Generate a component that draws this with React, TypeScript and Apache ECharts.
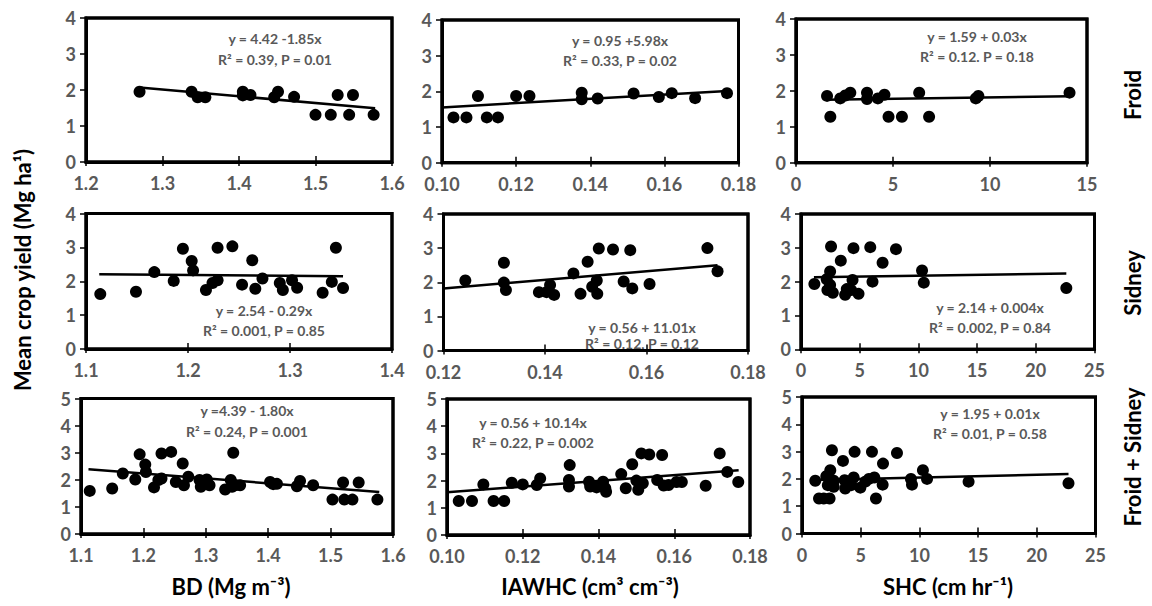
import React, { useEffect, useRef } from 'react';
import * as echarts from 'echarts';

// ---------- data (x, mean crop yield) ----------
const froidBD = [[1.27,1.95],[1.338,1.95],[1.346,1.80],[1.356,1.80],[1.405,1.95],[1.405,1.85],[1.415,1.86],[1.446,1.80],[1.451,1.95],[1.472,1.81],[1.50,1.31],[1.52,1.31],[1.544,1.31],[1.529,1.86],[1.549,1.86],[1.576,1.31]];
const froidIAWHC = [[0.1031,1.27],[0.1066,1.27],[0.1097,1.87],[0.1121,1.27],[0.1151,1.27],[0.1200,1.87],[0.1236,1.87],[0.1377,1.96],[0.1377,1.78],[0.1420,1.80],[0.1517,1.94],[0.1585,1.84],[0.162,1.95],[0.1683,1.81],[0.1769,1.95]];
const froidSHC = [[1.60,1.86],[1.77,1.28],[2.28,1.79],[2.54,1.87],[2.80,1.95],[3.66,1.95],[3.66,1.77],[4.22,1.79],[4.56,1.89],[4.77,1.28],[5.46,1.28],[6.35,1.95],[6.86,1.28],[9.27,1.79],[9.40,1.86],[14.1,1.95]];

const sidneyBD = [[1.114,1.62],[1.149,1.69],[1.167,2.27],[1.186,2.01],[1.195,2.96],[1.2036,2.60],[1.205,2.32],[1.2176,1.74],[1.224,1.95],[1.229,2.99],[1.229,2.03],[1.2435,3.03],[1.253,1.90],[1.263,2.62],[1.266,1.78],[1.273,2.08],[1.29,1.95],[1.293,1.74],[1.302,2.03],[1.307,1.81],[1.332,1.66],[1.341,1.98],[1.345,2.99],[1.352,1.80]];
const sidneyIAWHC = [[0.1243,2.05],[0.1319,2.57],[0.1319,1.99],[0.1323,1.77],[0.1388,1.71],[0.1403,1.71],[0.141,1.92],[0.1418,1.63],[0.1456,2.26],[0.147,1.66],[0.1484,2.60],[0.1493,1.87],[0.1502,2.05],[0.1503,1.66],[0.1506,2.99],[0.1534,2.96],[0.1555,2.02],[0.1568,2.94],[0.1572,1.82],[0.1606,1.95],[0.172,3.0],[0.174,2.32]];
const sidneySHC = [[1.14,1.93],[2.19,2.07],[2.48,2.30],[2.56,3.04],[2.48,1.90],[2.25,1.75],[2.71,1.67],[3.39,2.62],[3.76,1.61],[3.90,1.78],[4.39,2.05],[4.47,2.99],[4.27,1.75],[4.90,1.64],[5.90,3.02],[6.09,2.00],[6.95,2.56],[8.09,2.96],[10.31,2.33],[10.46,1.97],[22.6,1.81]];

const bothBD = [[1.114,1.59],[1.150,1.68],[1.167,2.23],[1.187,2.01],[1.194,2.94],[1.203,2.56],[1.204,2.29],[1.217,1.72],[1.224,1.99],[1.229,2.97],[1.229,2.05],[1.2445,3.03],[1.252,1.92],[1.263,2.60],[1.265,1.80],[1.272,2.11],[1.290,1.99],[1.292,1.74],[1.3016,2.01],[1.306,1.80],[1.331,1.64],[1.340,1.99],[1.344,3.0],[1.342,1.74],[1.347,1.80],[1.355,1.80],[1.403,1.92],[1.408,1.84],[1.414,1.85],[1.446,1.76],[1.451,1.96],[1.472,1.80],[1.503,1.27],[1.522,1.27],[1.535,1.27],[1.52,1.90],[1.545,1.90],[1.575,1.27]];
const bothIAWHC = [[0.1031,1.25],[0.1066,1.25],[0.1096,1.86],[0.1123,1.25],[0.1151,1.25],[0.1171,1.92],[0.1200,1.86],[0.1237,1.84],[0.1246,2.08],[0.1324,2.57],[0.1322,2.02],[0.1322,1.78],[0.1375,1.96],[0.1378,1.78],[0.1395,1.75],[0.1412,1.96],[0.1418,1.72],[0.142,1.59],[0.1460,2.24],[0.1472,1.72],[0.1489,2.60],[0.150,2.0],[0.1505,1.66],[0.1513,3.0],[0.1517,1.90],[0.1534,2.96],[0.1555,2.02],[0.1568,2.94],[0.1572,1.82],[0.1585,1.84],[0.1606,1.95],[0.162,1.95],[0.1683,1.81],[0.172,3.0],[0.174,2.32],[0.1769,1.95]];
const bothSHC = [[1.13,1.93],[1.45,1.28],[1.85,1.28],[2.35,1.28],[2.07,2.10],[2.2,1.77],[2.41,2.32],[2.55,3.05],[2.7,1.93],[2.7,1.71],[3.49,2.66],[3.63,1.95],[3.68,1.65],[4.11,1.90],[4.40,2.05],[4.48,2.99],[4.2,1.77],[4.97,1.68],[5.39,1.90],[5.7,2.0],[5.96,2.99],[6.16,2.05],[6.30,1.28],[6.90,2.56],[6.87,1.79],[8.09,2.95],[9.28,2.0],[9.37,1.79],[10.3,2.32],[10.65,2.0],[14.19,1.90],[22.7,1.84]];

// fitted regression lines (end points as drawn)
const fitFroidBD = [[1.27,2.07],[1.578,1.49]];
const fitFroidIAWHC = [[0.10,1.55],[0.177,2.01]];
const fitFroidSHC = [[1.5,1.75],[14.1,1.85]];
const fitSidneyBD = [[1.113,2.21],[1.352,2.15]];
const fitSidneyIAWHC = [[0.12,1.82],[0.174,2.50]];
const fitSidneySHC = [[1.1,2.13],[22.6,2.24]];
const fitBothBD = [[1.112,2.39],[1.578,1.55]];
const fitBothIAWHC = [[0.10,1.57],[0.177,2.38]];
const fitBothSHC = [[1.1,1.96],[22.7,2.18]];

const equations = ['y = 4.42 -1.85x','y = 0.95 +5.98x','y = 1.59 + 0.03x','y = 2.54 - 0.29x','y = 0.56 + 11.01x','y = 2.14 + 0.004x','y =4.39 - 1.80x','y = 0.56 + 10.14x','y = 1.95 + 0.01x'];
const stats = ['R² = 0.39, P = 0.01','R² = 0.33, P = 0.02','R² = 0.12. P = 0.18','R² = 0.001, P = 0.85','R² = 0.12, P = 0.12','R² = 0.002, P = 0.84','R² = 0.24, P = 0.001','R² = 0.22, P = 0.002','R² = 0.01, P = 0.58'];

// axis ranges [min, max, interval, decimals]
const xRanges = [[1.2,1.6,0.1,1],[0.10,0.18,0.02,2],[0,15,5,0],[1.1,1.4,0.1,1],[0.12,0.18,0.02,2],[0,25,5,0],[1.1,1.6,0.1,1],[0.10,0.18,0.02,2],[0,25,5,0]];
const yRanges = [[0,4,1],[0,4,1],[0,4,1],[0,4,1],[0,4,1],[0,4,1],[0,5,1],[0,5,1],[0,5,1]];

const rowTitles = ['Froid','Sidney','Froid + Sidney'];
const xTitles = ['BD (Mg m⁻³)','IAWHC (cm³ cm⁻³)','SHC (cm hr⁻¹)'];
const yTitle = 'Mean crop yield (Mg ha¹)';

const panelData = [froidBD, froidIAWHC, froidSHC, sidneyBD, sidneyIAWHC, sidneySHC, bothBD, bothIAWHC, bothSHC];
const panelFits = [fitFroidBD, fitFroidIAWHC, fitFroidSHC, fitSidneyBD, fitSidneyIAWHC, fitSidneySHC, fitBothBD, fitBothIAWHC, fitBothSHC];

// ---------- layout ----------
const boxes = [
  [86,18,392,162],[442,20,738.5,162.7],[796,19,1087,162.7],
  [86,213.5,392,349],[443.5,214,748,350.5],[801,214,1094.5,349.3],
  [81,398.5,393,534],[447,399,750,535],[802,397,1095.5,533.5],
];
const annoPos = [[275,38,59],[620,40,60],[977,36,56],[264,310,330],[642,327,343],[990,307,327],[247,410,431],[533,422,442],[990,413,433]];

const GRAY = '#595959';
const FONT = 'Lato, "Open Sans", sans-serif';

export default function App() {
  const ref = useRef<HTMLDivElement>(null);
  useEffect(() => {
    if (!ref.current) return;
    const chart = echarts.init(ref.current, undefined, { renderer: 'svg' });
    const grid: any[] = [];
    const xAxis: any[] = [];
    const yAxis: any[] = [];
    const series: any[] = [];
    const graphic: any[] = [];
    boxes.forEach((b, i) => {
      grid.push({ left: b[0], top: b[1], width: b[2] - b[0], height: b[3] - b[1], show: true, borderColor: '#000000', borderWidth: 3, backgroundColor: 'rgba(0,0,0,0)' });
      const xr = xRanges[i];
      xAxis.push({
        type: 'value', gridIndex: i, min: xr[0], max: xr[1], interval: xr[2],
        axisLine: { show: true, onZero: false, lineStyle: { color: '#000', width: 3 } },
        axisTick: { show: true, inside: false, length: 4, lineStyle: { color: '#000', width: 1.5 } },
        axisLabel: { show: true, margin: 12, color: GRAY, fontFamily: FONT, fontWeight: 'bold', fontSize: 18, formatter: (v: number) => v.toFixed(xr[3] as number) },
        splitLine: { show: false },
      });
      const yr = yRanges[i];
      yAxis.push({
        type: 'value', gridIndex: i, min: yr[0], max: yr[1], interval: yr[2],
        axisLine: { show: true, onZero: false, lineStyle: { color: '#000', width: 3 } },
        axisTick: { show: true, inside: false, length: 6, lineStyle: { color: '#000', width: 1.5 } },
        axisLabel: { show: true, margin: 10, color: GRAY, fontFamily: FONT, fontWeight: 'bold', fontSize: 18 },
        splitLine: { show: false },
      });
      series.push({
        type: 'scatter', xAxisIndex: i, yAxisIndex: i, data: panelData[i], symbol: 'circle', symbolSize: 12,
        itemStyle: { color: '#000', opacity: 1 }, z: 3,
      });
      series.push({
        type: 'line', xAxisIndex: i, yAxisIndex: i, data: panelFits[i], showSymbol: false, symbol: 'none',
        lineStyle: { color: '#000', width: 2.5 }, z: 2,
      });
      const a = annoPos[i];
      graphic.push({ type: 'text', x: a[0], y: a[1], style: { text: equations[i], fill: GRAY, font: `bold 14px ${FONT}`, textAlign: 'center', textVerticalAlign: 'middle' } });
      graphic.push({ type: 'text', x: a[0], y: a[2], style: { text: stats[i], fill: GRAY, font: `bold 14px ${FONT}`, textAlign: 'center', textVerticalAlign: 'middle' } });
      // box border (drawn as a rect so it is solid black)
      graphic.push({ type: 'rect', shape: { x: b[0], y: b[1], width: b[2] - b[0], height: b[3] - b[1] }, style: { fill: 'none', stroke: '#000', lineWidth: 3 }, silent: true, z: 10 });
    });
    // inner half of x ticks (ticks cross the axis)
    boxes.forEach((b, i) => {
      const xr = xRanges[i];
      xAxis.push({
        type: 'value', gridIndex: i, min: xr[0], max: xr[1], interval: xr[2], position: 'bottom',
        axisLine: { show: false }, axisLabel: { show: false }, splitLine: { show: false },
        axisTick: { show: true, inside: true, length: 6, lineStyle: { color: '#000', width: 1.5 } },
      });
    });
    // titles
    graphic.push({ type: 'text', x: 22, y: 270, rotation: Math.PI / 2, style: { text: yTitle, fill: '#000', font: `bold 22px ${FONT}`, textAlign: 'center', textVerticalAlign: 'middle' } });
    const rowY = [95, 283, 457];
    rowTitles.forEach((t, i) => {
      graphic.push({ type: 'text', x: 1132, y: rowY[i], rotation: Math.PI / 2, style: { text: t, fill: '#000', font: `bold 22px ${FONT}`, textAlign: 'center', textVerticalAlign: 'middle' } });
    });
    const colX = [231, 590, 948];
    xTitles.forEach((t, i) => {
      graphic.push({ type: 'text', x: colX[i], y: 586, style: { text: t, fill: '#000', font: `bold 22px ${FONT}`, textAlign: 'center', textVerticalAlign: 'middle' } });
    });
    chart.setOption({ animation: false, backgroundColor: '#fff', grid, xAxis, yAxis, series, graphic });
    return () => chart.dispose();
  }, []);
  return <div ref={ref} style={{ position: 'fixed', left: 0, top: 0, width: 1152, height: 606 }} />;
}
